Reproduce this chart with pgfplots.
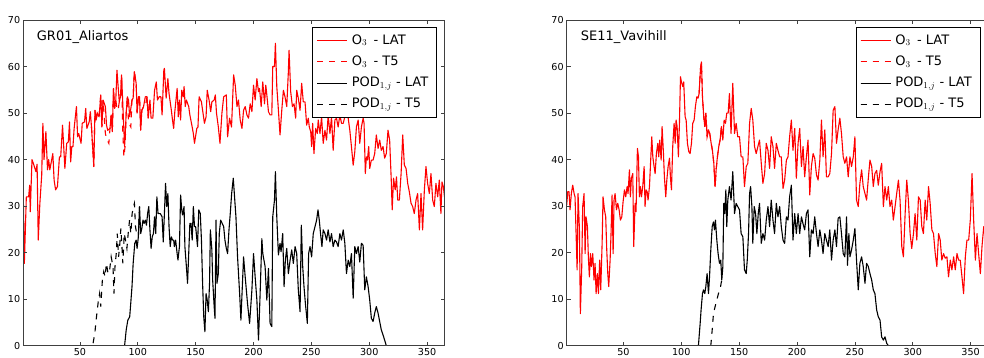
\documentclass[border=0pt]{standalone}
\usepackage[no-math]{fontspec}
\setmainfont{DejaVu Sans}
\usepackage{pgfplots}
\pgfplotsset{compat=1.18}
\pgfplotsset{
  myax/.style={
    width=421.3pt, height=325.7pt, scale only axis,
    xmin=1, xmax=365, ymin=0, ymax=70,
    xtick={50,100,...,350}, ytick={0,10,...,70},
    tick align=inside, major tick length=4pt,
    axis line style={draw=black!75, line width=0.9pt},
    tick style={draw=black!75, line width=0.8pt},
    tick label style={font=\fontsize{9.6}{11}\selectfont},
    /pgf/number format/assume math mode=true,
    xticklabel style={inner sep=0pt, yshift=-2.6pt},
    yticklabel style={inner sep=0pt, xshift=-2.8pt},
    axis on top,
    legend image code/.code={\path (0pt,0pt) -- (30pt,0pt); \draw[##1] (0pt,0pt) -- (18pt,0pt);},
    legend style={at={(1,1)}, anchor=north east, xshift=-7.5pt, yshift=-7pt,
      draw=black, line width=0.8pt, fill=white, inner xsep=4pt, inner ysep=2.7pt,
      font=\fontsize{13}{15}\selectfont,
      nodes={inner sep=4.3pt, text height=9.6pt, text depth=3pt},
      cells={anchor=west}, row sep=0pt},
  },
  o3lat/.style={red, line width=1.1pt, line join=round},
  o3t5/.style={red, line width=1.1pt, dash pattern=on 6pt off 6pt},
  podlat/.style={black, line width=1.1pt, line join=round},
  podt5/.style={black, line width=1.1pt, dash pattern=on 6pt off 6pt},
}
\newcommand{\legendentries}{%
\addlegendimage{color=red, line width=1.1pt, solid}\addlegendentry{O$_3$ \,- LAT}
\addlegendimage{color=red, line width=1.1pt, dash pattern=on 6pt off 6pt}\addlegendentry{O$_3$ \,- T5}
\addlegendimage{color=black, line width=1.1pt, solid}\addlegendentry{POD$_{1,j}$ - LAT}
\addlegendimage{color=black, line width=1.1pt, dash pattern=on 6pt off 6pt}\addlegendentry{POD$_{1,j}$ - T5}
}
\begin{document}
\begin{tikzpicture}
% ---------------- Left panel ----------------
\begin{axis}[myax, at={(0pt,0pt)}, anchor=south west]
\legendentries
% O3 T5 (differs from LAT only in spring)
\addplot[o3t5, forget plot] coordinates {
(60,47) (62,38.5) (63,50.6) (64,48.5) (65,50) (66.6,49.2) (68,53.9) (69,47) (70,52.8) (72,45.6) (73,44.5) (74,44) (75,43.5) (76,46.7) (77,49.6) (78,46) (79,55.3) (80,51) (81,52.8) (82,51) (83,50.6) (84,52.4) (85,53.5) (86,58.2) (87,46.3) (88,40.6) (89,42.8) (90,50) (91,53.5) (92,48) (93,47.5) (94,47) (95,52.8) (96,53.2) (97,58.9) (98.6,56.4) (99.4,50) (100.6,53.5) (101.5,53.5) (102.5,46.3) (103.5,50.6) (105,51.4) (106.5,51.4) (108,53.5) (109,48.9) (110.5,52.8)
};
% O3 LAT
\addplot[o3lat, forget plot] coordinates {
(1,33.8) (2,17.7) (3.7,32) (5.7,32) (6.6,34.5) (7.1,28.8) (8.6,40) (10,39) (12,37.4) (13,39) (14,22.7) (15.4,30.6) (17,36.7) (18,47.8) (19,40) (20.6,46) (22,37.8) (23,40) (24,37.8) (26.6,41.3) (27.7,35.6) (29,33.5) (30.6,34.2) (32.3,40.6) (33.4,40.6) (35,47.4) (36,42.8) (37,38.1) (38.6,43.5) (40,43.8) (41,48.1) (42,39.5) (43,42.8) (44,42.8) (45,46.7) (47,51.4) (48,44.9) (49,45.6) (51,43.5) (52,47.8) (54,48.1) (55,51) (56,46.7) (58,48.1) (59,50.3) (60,47) (62,38.5) (63,50.6) (64,48.5) (65,50) (66.6,49.2) (68,53.9) (69,47) (70,52.8) (72,51.4) (73,47.4) (74,46.3) (76,46.7) (77,49.6) (78,46) (79,55.3) (80,51) (81,52.8) (82,59.2) (84,52.4) (85,53.5) (86,58.2) (88,46.3) (88.6,42.8) (90,50) (91,53.5) (92,52.8) (93,49.2) (95,52.8) (96,53.2) (97,58.9) (98.6,56.4) (99.4,50) (100.6,53.5) (101.5,53.5) (102.5,46.3) (103.5,50.6) (105,51.4) (106.5,53.5) (108,53.5) (109,48.9) (110.5,52.8) (111.5,48.9) (113,48.9) (114.5,54.9) (116,56.7) (117,52.8) (118.5,53.5) (120,53.5) (121,49.6) (122.5,59.2) (123,59.6) (124.5,53.2) (126,57.4) (127,54.2) (129,50.6) (130,48.5) (131,46.7) (132,50.3) (134,55.3) (135,49.2) (136,52.8) (137,48.5) (138,54.9) (139.3,53.5) (140,55.7) (141,51.4) (142,52.8) (144,51.4) (145,49.6) (147,47) (148,45.6) (149,43.5) (151,46.7) (152,47) (153,53.5) (155,52.4) (156,50.6) (157.6,47.8) (159,49.2) (160,54.9) (161.6,52.8) (163,50.3) (164,52.4) (166,52.8) (167,53.9) (168,50) (169.6,47) (171,43.5) (172.7,50) (174.2,53.5) (176.5,53.9) (177.6,44.9) (179.3,48.9) (181,47) (182.8,58.2) (184.2,56) (185.7,51.4) (187,52.8) (188.5,48.5) (190,46.7) (191.4,50.6) (192.8,51.4) (194.3,49.6) (195.7,48.9) (197.1,52) (198.6,50.3) (200,56) (201.4,52.8) (202.9,57.4) (204.3,54.6) (205.2,55.3) (206.6,51.4) (208,56.7) (209.5,52) (210.6,56) (211.5,53.9) (212.9,50.3) (214.3,49.6) (215.8,49.6) (216.6,60) (218.1,60) (218.9,65) (220.1,55.7) (221.5,50.6) (222.9,45.3) (224.4,50.6) (225.8,54.9) (227.2,53.5) (228.7,51.4) (230.1,58.9) (230.7,63.5) (232.1,54.6) (233.6,51.4) (235,52) (236.4,48.9) (237.3,54.9) (238.7,53.2) (240.2,50.6) (241.6,56.4) (243,52.4) (244.5,52.4) (245.9,47.4) (247.3,48.9) (248.2,47) (249.4,46) (250.2,42.8) (251.1,47.8) (252.2,41.3) (253.7,46.7) (255.1,45.6) (255.9,48.5) (257.4,45.6) (258.8,49.2) (260.2,43.5) (261.7,46.3) (263.1,44.2) (264.5,49.6) (266,45.6) (267.4,49.2) (268.8,42) (270.3,48.5) (271.7,48.9) (273.1,47) (274.6,49.6) (276,47.8) (277.5,47.8) (278.9,49.2) (280.3,50) (281.8,48.9) (283.2,46.3) (284.6,42.8) (286.1,38.8) (287.5,41.7) (288.9,47) (290.4,48.5) (291.8,43.5) (293.2,47) (294.7,48.9) (295.5,47.8) (296.6,37) (297.5,40.6) (298.4,39.9) (299.5,42.8) (300.4,38.1) (301.8,39.9) (303.3,39.9) (304.7,41.3) (306.1,45.3) (307.6,42.4) (309,44.2) (310.4,42) (311.9,42.8) (313.3,40.3) (314.7,41.3) (316.2,46.3) (317.6,44.2) (319,35.6) (319.8,29.2) (321,36) (322.4,33.5) (323.5,36.3) (324.6,31.3) (326,31.3) (327.5,37) (328.9,45.3) (330.3,38.8) (331.8,38.1) (333.2,34.9) (334.6,33.1) (336.1,30.6) (337.5,29.9) (338.9,28.4) (340.4,31.3) (341.8,32.7) (343.3,24.9) (344.7,32.7) (346.1,24.9) (347.6,33.5) (349,38.5) (350.4,34.9) (351.9,32.7) (353.3,37) (354.8,31.3) (356.2,29.9) (357.6,34.9) (359.1,32) (360.5,35.6) (361.9,28.4) (362.8,35.2) (364,34.2) (365,32)
};
% POD LAT
\addplot[podlat, forget plot] coordinates {
(1,0) (88.6,0) (90,3.4) (91.4,5.5) (93,6.2) (93.7,8.4) (95,12.7) (96,17.7) (97.4,22) (98.6,22.7) (99.4,20.9) (100.5,23.4) (101.5,29.9) (102.5,24.1) (103.5,25.2) (104.5,27) (105.5,26.3) (106.5,27) (107.5,25.9) (108.5,28.4) (109.5,29.9) (110.5,24.9) (111.5,20.9) (112.5,23.4) (113.5,24.1) (114.5,27.7) (115.5,24.1) (116.5,32) (117.5,28.4) (118.5,28.4) (119.5,28.4) (121,27.7) (122,22.3) (123,28.4) (124,34.9) (125,29.9) (126,32.7) (127,25.6) (128,21.3) (129,23.4) (130,22.7) (131,22.7) (131.6,21.3) (132.7,22.7) (134,19.8) (134.7,18.4) (136,21.3) (137,32.4) (138,29.2) (138.7,28.1) (140,29.9) (140.7,21.3) (142,17) (143,13.4) (144,19.8) (145,26.3) (146,26.3) (147,22.7) (148,29.9) (149,25.6) (150,25.6) (151.6,21.3) (152.7,29.2) (154,28.4) (155,22.7) (156,13.4) (157,6.2) (158,3) (159,11.2) (160,9.8) (161,7.3) (162,13.4) (162.7,24.9) (164,20.6) (164.7,14.1) (166,8.4) (166.7,5.9) (167.6,27) (168.4,13.4) (169.6,15.5) (170.4,24.1) (171.6,27) (174.2,25.6) (175.3,22.7) (176.5,20.9) (177.6,19.8) (178.8,24.9) (179.9,28.4) (181.1,32.7) (182.5,36) (184.8,27.7) (186.2,19.1) (188,11.2) (189.1,5.5) (191.4,19.1) (192.8,14.8) (194.8,9.1) (196.6,4.8) (198.6,12) (200,19.8) (201.4,14.8) (202.9,9.8) (204.3,1.2) (205.7,11.2) (207.2,23) (208,19.8) (210,17) (211.5,9.8) (212.9,16.6) (214.3,4.8) (215.8,4.1) (216.6,27.7) (218.1,31.3) (218.9,37.4) (220.1,27.7) (221.5,19.5) (222.9,22) (223.8,20.2) (225.2,24.1) (226.4,12.7) (227.5,18.4) (228.7,20.9) (230.1,15.5) (231.6,18.4) (233,20.6) (234.4,17.7) (235.9,21.3) (237.3,19.8) (238.7,12) (240.2,7.3) (241.3,25.9) (242.5,17) (243.6,12.7) (244.8,9.1) (246.5,4.8) (247.6,19.8) (248.8,21.3) (250.2,19.1) (251.6,24.1) (253.1,25.6) (254.5,27) (255.7,29.2) (256.8,27) (257.9,24.1) (259.1,21.3) (260.2,24.9) (261.7,24.1) (263.1,22.7) (264.5,24.9) (266,22.3) (267.4,24.1) (268.8,21.3) (270.3,22.7) (271.7,22.3) (273.1,21.3) (274.6,24.1) (276,22.7) (277.5,24.9) (278.9,22) (280.3,15.5) (281.8,18.4) (283.2,17) (284.6,19.8) (286.1,10.2) (287.5,21.3) (288.9,19.8) (290.4,21.3) (291.8,18) (293.2,22) (294.7,21.6) (296.1,12) (297.5,14.8) (299,12.7) (300.4,9.8) (301.8,5.9) (303.3,5.2) (304.7,7) (306.1,8.4) (307.6,7) (309,5.2) (310.4,3.4) (311.9,2.3) (313.3,1.2) (314.7,0) (365,0)
};
% POD T5
\addplot[podt5, forget plot] coordinates {
(1,0) (61,0) (62.9,2.7) (64,5.5) (66,9.8) (67,11.2) (68,8.4) (69.4,14.1) (70.6,15.9) (71.7,14.8) (72.9,17.7) (74.3,15.5) (75.7,16.3) (77,19.1) (78.6,17) (79.4,11.2) (80.3,17) (81.4,19.8) (82.3,24.1) (83.4,19.1) (84.3,21.3) (85.4,25.2) (86.3,21.3) (87.1,17.7) (88.3,24.1) (89.4,22.7) (90.6,20.9) (91.7,24.1) (92.9,27) (94,24.1) (95.1,28.4) (96.3,29.9) (97.1,30.6) (98,25.6) (99,24.1) (100.5,23.4) (101.5,29.9)
};
\node[anchor=base west, inner sep=0pt, font=\fontsize{13}{15}\selectfont, xshift=13.5pt, yshift=-20.7pt] at (rel axis cs:0,1) {GR01\_Aliartos};
\end{axis}
% ---------------- Right panel ----------------
\begin{axis}[myax, at={(543.5pt,0pt)}, anchor=south west]
\legendentries
% O3 T5 (coincides with LAT)
\addplot[o3t5, forget plot] coordinates {
(115.4,54.2) (116.6,59.6) (117.4,61) (118.3,53.5) (119.4,49.2) (120.3,47.1) (121.2,50) (122.3,44.9) (123.5,46.4) (124.6,45.6) (125.8,43.5) (126.9,42) (128.1,39.2) (129.2,34.2) (130.1,37.8) (131.2,40.6) (132.4,42.8) (133.5,44.2) (134.7,47.1) (135.9,44.2)
};
% O3 LAT
\addplot[o3lat, forget plot] coordinates {
(1,30.2) (1.9,33.1) (3,33.1) (3.9,29.2) (5,32.7) (6.2,34.5) (7.4,32.7) (8.2,32) (9.1,24.1) (10,16.3) (10.8,32.7) (12,24.9) (12.8,6.9) (14,17) (14.8,29.9) (16,32.7) (16.9,19.8) (17.7,27.7) (18.9,25.6) (19.7,19.1) (20.6,14.8) (21.5,19.8) (22.3,17) (23.5,19.8) (24.6,14.1) (25.5,17.7) (26.4,11.2) (27.5,15.5) (28.4,11.2) (29.5,18.4) (30.4,12) (31.6,22) (32.4,32) (33.6,29.2) (34.7,27.7) (35.6,20.6) (36.5,15.5) (37.3,12.7) (38.5,18.4) (39.3,24.1) (40.2,32.4) (41.1,19.8) (41.9,31.3) (42.8,32.7) (44,29.2) (45.1,30.6) (46.3,29.2) (47.4,27) (48.6,27.7) (49.7,30.9) (50.9,33.5) (52,32) (53.2,34.2) (54,32.7) (55.2,37.8) (56,32) (56.9,36) (58.1,37) (58.9,21.3) (60.1,30.6) (60.9,28.8) (62.1,42.4) (63,40.6) (63.8,32) (64.7,34.2) (65.6,32) (66.7,34.2) (67.9,38.5) (68.7,29.9) (69.6,33.5) (70.5,33.1) (71.3,31.3) (72.5,34.2) (74.5,44.9) (75.4,40.6) (76.5,38.5) (77.4,37) (78.5,41.3) (79.7,43.5) (80.5,40.6) (81.4,44.2) (82.6,39.9) (83.4,47.1) (84.6,41.3) (85.4,36.3) (86.6,32) (87.5,35.6) (88.6,38.5) (89.8,40.3) (90.6,36.3) (91.5,33.5) (92.6,42.8) (93.8,47.8) (94.7,43.5) (95.5,48.5) (96.4,47.1) (97.5,40.6) (98.4,47.8) (99.3,57.8) (100.1,56.7) (101.3,55.7) (102.1,56.7) (103.3,49.2) (104.2,48.5) (105.3,43.5) (106.5,41.7) (107.6,41.3) (108.8,43.5) (109.9,47.8) (111.1,48.5) (112.2,51.4) (113.4,53.5) (114.5,53.2) (115.4,54.2) (116.6,59.6) (117.4,61) (118.3,53.5) (119.4,49.2) (120.3,47.1) (121.2,50) (122.3,44.9) (123.5,46.4) (124.6,45.6) (125.8,43.5) (126.9,42) (128.1,39.2) (129.2,34.2) (130.1,37.8) (131.2,40.6) (132.4,42.8) (133.5,44.2) (134.7,47.1) (135.9,44.2) (137,48.5) (138.2,47.8) (139.3,50) (140.5,50) (141.6,54.2) (143,45.6) (144.5,56.4) (146,45.6) (147.4,47.8) (148.8,44.9) (150.3,44.9) (151.7,40.6) (153.2,40.6) (154.6,34.2) (156.1,38.5) (157.5,39.2) (159,47.8) (160.4,51) (161.8,48.5) (163.3,42.8) (164.7,41.3) (166.2,42.8) (167.6,44.2) (169.1,39.2) (170.5,34.9) (172,37) (173.4,43.5) (174.9,42) (176.3,38.1) (177.7,44.9) (179.2,42.8) (180.6,38.1) (182.1,43.5) (183.5,42) (185,40.6) (186.4,40.6) (187.9,33.8) (189.3,35.6) (190.8,39.9) (192.2,40.6) (193.6,44.9) (195.1,48.5) (196.5,42) (198,46.7) (199.4,36) (200.9,43.5) (202.3,46.7) (203.8,38.5) (205.2,42.8) (206.6,36.3) (208.1,40.6) (209.5,44.2) (211,32.4) (212.4,38.5) (213.9,41.3) (215.3,40.3) (216.8,36.7) (218.2,35.6) (219.7,39.9) (221.1,48.5) (222.5,40.6) (224,46.4) (225.4,36.3) (226.9,36.3) (228.3,37) (229.8,41.3) (231.2,50.6) (232.7,51.4) (234.1,43.5) (235.5,46.4) (237,48.9) (238.4,45.6) (239.9,40.6) (241.3,39.2) (242.8,40.6) (244.2,36.3) (245.7,40.6) (247.1,38.5) (248.6,40.6) (250,44.9) (251.4,31.3) (252.9,29.9) (254.3,34.9) (255.8,37.8) (257.2,34.2) (258.7,32.7) (260.1,31.3) (261.6,36) (263,39.9) (264.5,38.5) (265.9,34.2) (267.3,37) (268.8,37.7) (270.2,34.5) (271.7,37.4) (273.1,39.2) (274.6,29.9) (276,34.2) (277.5,31.3) (278.9,34.2) (280.3,29.9) (281.8,31.3) (283.2,27) (284.7,29.9) (286.1,32.7) (287.6,35.6) (289,31.3) (290.5,21.3) (291.9,19.1) (293.4,28.4) (294.8,35.6) (296.2,31.3) (297.7,24.1) (299.1,20.9) (300.6,24.1) (302,28.4) (303.5,22.7) (304.9,32) (306.4,31.3) (307.8,25.6) (309.2,24.1) (310.7,31.3) (312.1,27) (313.6,34.2) (315,30.6) (316.5,24.9) (317.9,24.1) (319.4,19.8) (320.8,17) (322.3,24.1) (323.7,22.7) (325.1,18.4) (326.6,19.8) (328,18.8) (329.5,19.1) (330.9,14.8) (332.4,18.4) (333.8,16.3) (335.3,19.1) (336.7,16.3) (338.2,19.8) (339.6,18.4) (341,18.4) (342.5,14.8) (343.9,11.2) (345.4,19.1) (346.8,22.7) (348.3,22.7) (349.7,27) (351.2,37) (352.6,27) (354.1,18.4) (355.5,24.1) (356.9,19.8) (358.4,15.5) (359.8,21.3) (361.3,25.6) (363,22) (365,26)
};
% POD LAT
\addplot[podlat, forget plot] coordinates {
(1,0) (114.8,0) (116.3,4.8) (117.1,7.7) (118.3,11.2) (119.2,12) (120.3,11.2) (121.2,12.7) (122.3,15.5) (123.5,11.2) (124.4,14.8) (125.5,20.6) (126.7,25.6) (127.8,26.6) (128.7,24.9) (129.5,27) (130.7,22.7) (131.8,19.8) (133,17.7) (134.1,18.4) (135,14.1) (135.9,17) (136.7,30.6) (137.6,28.4) (138.5,33.5) (139.3,25.6) (140.2,31.3) (141.6,34.2) (143,31.3) (144.5,37.4) (146,28.4) (147.4,30.6) (148.8,29.9) (150.3,29.2) (151.7,24.1) (153.2,23.4) (154.6,16.3) (156.1,15.5) (157,18.4) (158.1,24.1) (159,32.7) (159.9,34.2) (161,29.9) (161.8,22) (163,29.9) (164.2,28.4) (165.3,24.1) (166.5,28.4) (167.6,30.6) (169.1,22) (170.5,24.1) (172,22.7) (173.4,27) (174.9,29.9) (176.3,25.6) (177.7,31.3) (179.2,27) (180.6,24.1) (182.1,30.6) (183.5,27.7) (185,29.9) (186.4,25.6) (187.9,22.7) (189.3,22) (190.8,27.7) (192.2,27) (193.6,32) (195.1,34.5) (196.5,22.7) (198,28.4) (199.4,24.1) (200.9,28.4) (202.3,24.1) (203.8,27.7) (205.2,26.2) (206.6,24.9) (208.1,28.4) (209.5,29.2) (211,19.1) (212.4,24.9) (213.9,24.1) (215.3,27.7) (216.8,24.1) (218.2,21.3) (219.7,24.9) (221.1,22.7) (222.5,19.8) (224,24.1) (225.4,22.7) (226.9,21.3) (228.3,24.9) (229.8,18.4) (231.2,22.7) (232.7,24.9) (234.1,21.3) (235.5,27.4) (237,27.7) (238.4,24.1) (239.9,19.8) (241.3,19.1) (242.8,27.7) (243.6,17.3) (244.8,24.1) (245.7,19.1) (247.1,20.6) (248.6,22.7) (250,25.2) (251.4,18.4) (252.9,12) (254.3,17.7) (255.8,19.1) (257.2,17) (258.7,13.4) (260.1,17.7) (261.6,17) (263,15.5) (264.5,14.1) (265.9,12) (267.3,11.2) (268.8,7.7) (270.2,6.2) (271.7,5.5) (273.1,1.9) (274.6,1.2) (276,1.9) (277.5,0.5) (278.9,0) (365,0)
};
% POD T5
\addplot[podt5, forget plot] coordinates {
(1,0) (125.5,0) (126.7,3.4) (127.8,6.9) (129.2,8.4) (130.7,9.8) (132.1,11.2) (133.5,12) (134.4,13.4) (135,14.1)
};
\node[anchor=base west, inner sep=0pt, font=\fontsize{13}{15}\selectfont, xshift=14pt, yshift=-20.7pt] at (rel axis cs:0,1) {SE11\_Vavihill};
\end{axis}
\pgfresetboundingbox
\path[use as bounding box] (-23.2pt,-11.3pt) rectangle (960.8pt,345.7pt);
\end{tikzpicture}
\end{document}
